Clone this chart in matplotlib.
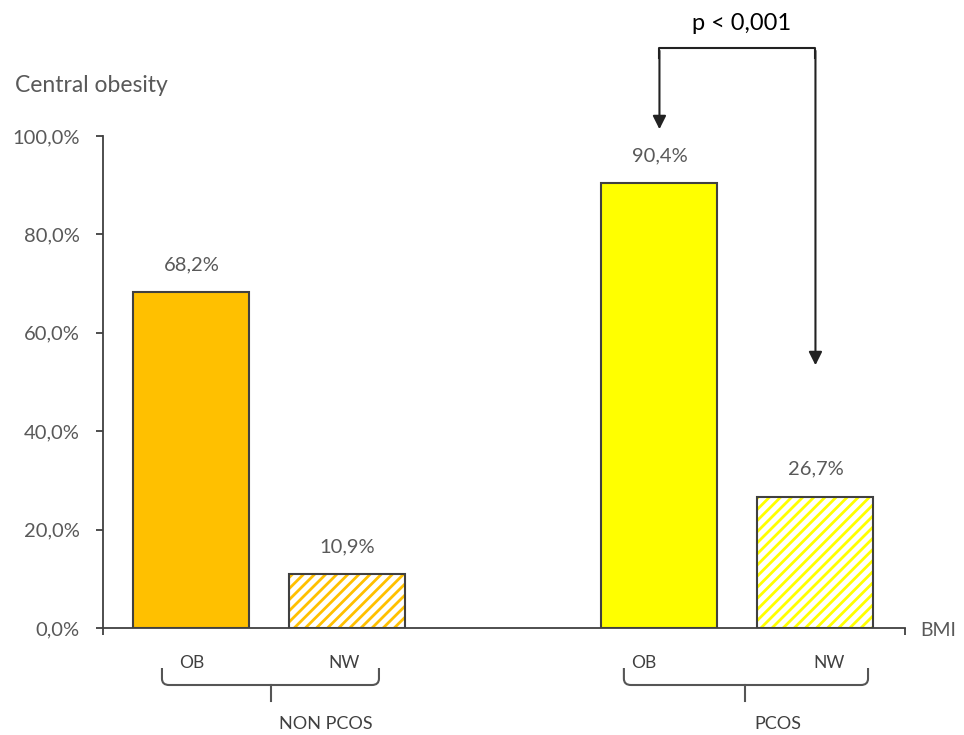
#Bar chart: central obesity by BMI class in non-PCOS and PCOS women

import matplotlib
matplotlib.use("Agg")
import matplotlib.pyplot as plt
from matplotlib.path import Path
from matplotlib.patches import PathPatch

plt.rcParams['font.family'] = ['Lato', 'DejaVu Sans']
plt.rcParams['hatch.linewidth'] = 2.0

# data
categories = ['OB', 'NW', 'OB', 'NW']
groups = ['NON PCOS', 'PCOS']
values = [68.2, 10.9, 90.4, 26.7]
value_labels = ['68,2%', '10,9%', '90,4%', '26,7%']
yticks = [0, 20, 40, 60, 80, 100]
ytick_labels = ['0,0%', '20,0%', '40,0%', '60,0%', '80,0%', '100,0%']
p_text = 'p < 0,001'

positions = [0, 1, 3, 4]
colors = ['#FFC000', '#FFC000', '#FFFF00', '#FFFF00']
hatched = [False, True, False, True]
edge = '#404040'
gray = '#595959'

W, H = 964, 735
fig = plt.figure(figsize=(W / 100, H / 100), dpi=100)
# axes box in pixels: x 103..905, y(0)=628, y(100)=136
ax = fig.add_axes([103 / W, 1 - 628 / H, (905 - 103) / W, (628 - 136) / H])
ax.set_ylim(0, 100)
ax.set_xlim(-0.567, 4.574)

bw = 0.744
for x, v, c, h in zip(positions, values, colors, hatched):
    if h:
        ax.bar(x, v, width=bw, color='white', edgecolor=c, hatch='///', linewidth=0, zorder=2)
        ax.bar(x, v, width=bw, fill=False, edgecolor=edge, linewidth=1.5, zorder=3)
    else:
        ax.bar(x, v, width=bw, color=c, edgecolor=edge, linewidth=1.5, zorder=3)

for x, v, t in zip(positions, values, value_labels):
    ax.text(x, v + 5.6, t, ha='center', va='center', fontsize=14.5, color=gray)

# axes styling
for s in ['top', 'right']:
    ax.spines[s].set_visible(False)
for s in ['left', 'bottom']:
    ax.spines[s].set_color(edge)
    ax.spines[s].set_linewidth(1.3)
ax.set_yticks(yticks)
ax.set_yticklabels(ytick_labels, fontsize=14.5, color=gray)
ax.tick_params(axis='y', direction='out', length=5, width=1.3, color=edge, pad=12)
ax.set_xticks(ax.get_xlim())
ax.set_xticklabels(['', ''])
ax.tick_params(axis='x', direction='out', length=5, width=1.3, color=edge)

fig.text(15 / W, 1 - 85 / H, 'Central obesity', ha='left', va='center', fontsize=16.5, color=gray)
fig.text(920 / W, 1 - 631 / H, 'BMI', ha='left', va='center', fontsize=14, color=gray)

# p-value bracket with arrows
ytop = (628 - 48) / 4.92
ax.plot([positions[2], positions[2], positions[3], positions[3]],
        [ytop - 2, ytop, ytop, ytop - 2], color='#222222', lw=1.5, clip_on=False)
ax.annotate('', xy=(positions[2], (628 - 132) / 4.92), xytext=(positions[2], ytop),
            arrowprops=dict(arrowstyle='-|>', color='#222222', lw=1.5, mutation_scale=20),
            annotation_clip=False)
ax.annotate('', xy=(positions[3], (628 - 368) / 4.92), xytext=(positions[3], ytop),
            arrowprops=dict(arrowstyle='-|>', color='#222222', lw=1.5, mutation_scale=20),
            annotation_clip=False)
fig.text(742 / W, 1 - 23 / H, p_text, ha='center', va='center', fontsize=17, color='black')

# category labels and group braces below the axis
def ypx(py):
    return (628 - py) / 4.92

cat_offsets = [0.0, -0.02, -0.1, 0.09]
for x, c, o in zip(positions, categories, cat_offsets):
    ax.text(x + o, ypx(663), c, ha='center', va='center', fontsize=12.5, color=edge, clip_on=False)

brace_spans = [(-0.189, 1.202), (2.772, 4.337)]
brace_ticks = [0.51, 3.548]
group_x = [0.862, 3.76]
rx, ry = 0.045, 1.3
for (xl, xr), xc, gx, g in zip(brace_spans, brace_ticks, group_x, groups):
    yt, yb = ypx(668), ypx(685)
    verts = [(xl, yt), (xl, yb + ry), (xl, yb), (xl + rx, yb), (xr - rx, yb),
             (xr, yb), (xr, yb + ry), (xr, yt)]
    codes = [Path.MOVETO, Path.LINETO, Path.CURVE3, Path.CURVE3, Path.LINETO,
             Path.CURVE3, Path.CURVE3, Path.LINETO]
    ax.add_patch(PathPatch(Path(verts, codes), fill=False, edgecolor='#555555', lw=1.5, clip_on=False))
    ax.plot([xc, xc], [yb, ypx(701)], color='#555555', lw=1.5, clip_on=False)
    ax.text(gx, ypx(724), g, ha='center', va='center', fontsize=13, color=edge, clip_on=False)

fig.savefig('out.png', dpi=100)
